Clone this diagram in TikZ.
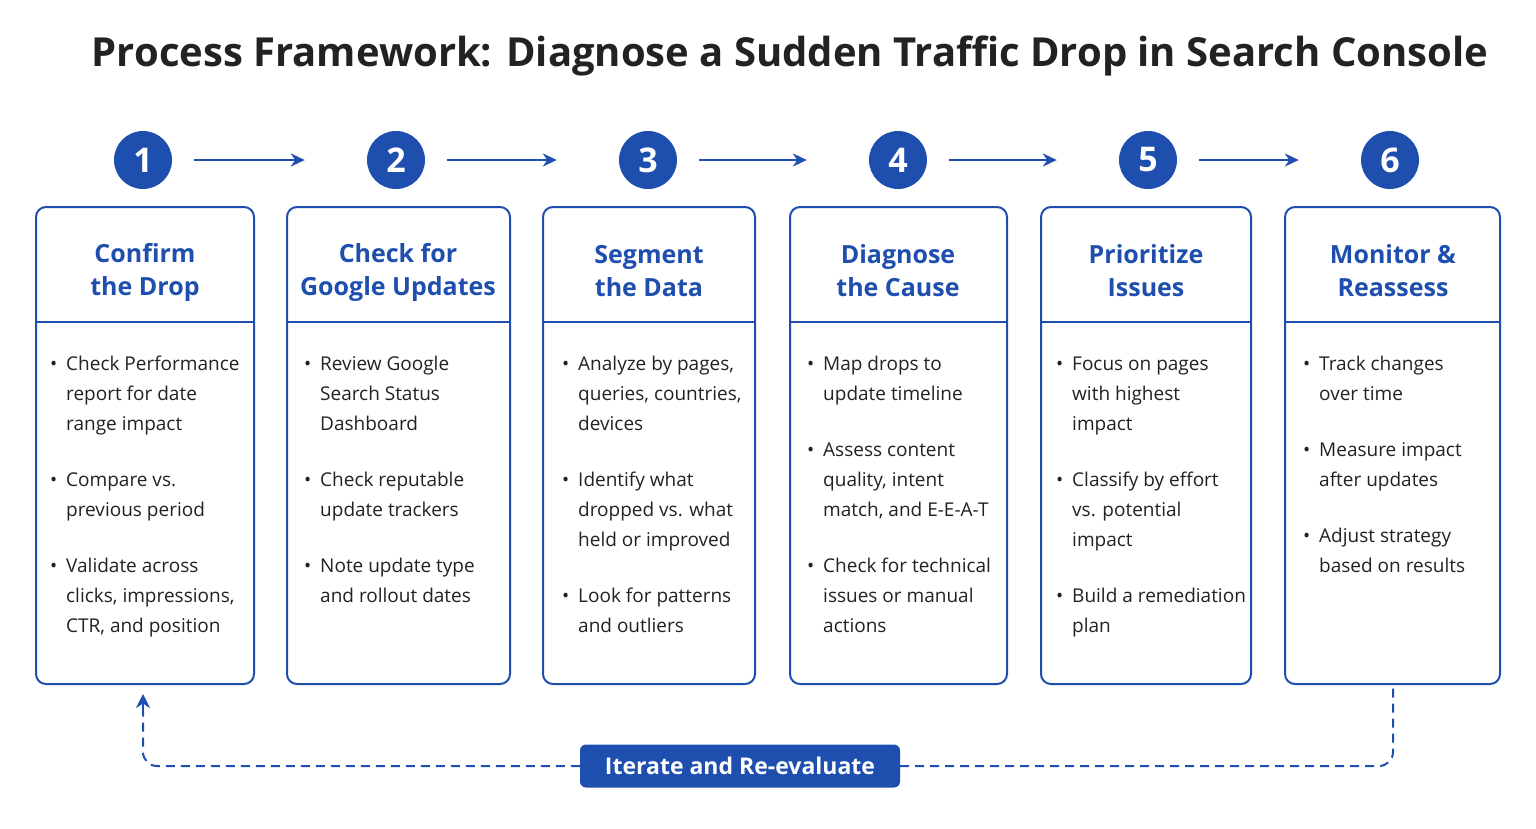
\documentclass[tikz,border=0pt]{standalone}
\usepackage{fontspec}
\setmainfont{Open Sans}
\usetikzlibrary{arrows.meta}
\definecolor{bl}{HTML}{1F4FAE}
\definecolor{ink}{HTML}{222222}
\newcommand{\bit}[1]{\makebox[16pt][l]{\textbullet}\begin{tabular}[t]{@{}l@{}}#1\end{tabular}\\[25pt]}
\tikzset{
 box/.style={draw=bl,line width=2pt,rounded corners=10pt},
 num/.style={circle,fill=bl,minimum size=58pt,text=white,font=\fontsize{34}{34}\selectfont\bfseries},
 head/.style={text=bl,font=\fontsize{25}{33}\selectfont\bfseries,align=center},
 body/.style={anchor=north west,text=ink,font=\fontsize{19}{30}\selectfont,align=left,inner sep=0pt},
 arr/.style={bl,line width=2.5pt,-{Stealth[length=14pt,width=13pt]}},
}
\begin{document}
\begin{tikzpicture}[x=1pt,y=-1pt]
\useasboundingbox[fill=white](0,0) rectangle (1536,828);
\node[text=ink,font=\fontsize{40}{40}\selectfont\bfseries] (title) at (790,56) {Process Framework: Diagnose a Sudden Traffic Drop in Search Console};
\foreach \i/\l/\r/\c in {1/36/254/143,2/287/510/396,3/543/755/648,4/790/1007/898,5/1041/1251/1148,6/1285/1500/1390}{
 \draw[box] (\l,207) rectangle (\r,684);
 \draw[bl,line width=2pt] (\l,322) -- (\r,322);
 \node[num] (n\i) at (\c,160) {\i};
}
\foreach \a/\b in {1/2,2/3,3/4,4/5,5/6}{\draw[arr] ([xshift=22pt]n\a.east) -- ([xshift=-62pt]n\b.west);}
\node[head] (h1) at (145,272) {Confirm\\the Drop};
\node[head] (h2) at (398,272) {Check for\\Google Updates};
\node[head] (h3) at (649,271) {Segment\\the Data};
\node[head] (h4) at (898,271) {Diagnose\\the Cause};
\node[head] (h5) at (1146,271) {Prioritize\\Issues};
\node[head] (h6) at (1393,271) {Monitor \&\\Reassess};
\node[body] (b1) at (50,349) {\bit{Check Performance\\report for date\\range impact}\bit{Compare vs.\\previous period}\bit{Validate across\\clicks, impressions,\\CTR, and position}};
\node[body] (b2) at (304,349) {\bit{Review Google\\Search Status\\Dashboard}\bit{Check reputable\\update trackers}\bit{Note update type\\and rollout dates}};
\node[body] (b3) at (562,349) {\bit{Analyze by pages,\\queries, countries,\\devices}\bit{Identify what\\dropped vs. what\\held or improved}\bit{Look for patterns\\and outliers}};
\node[body] (b4) at (807,349) {\bit{Map drops to\\update timeline}\bit{Assess content\\quality, intent\\match, and E-E-A-T}\bit{Check for technical\\issues or manual\\actions}};
\node[body] (b5) at (1056,349) {\bit{Focus on pages\\with highest\\impact}\bit{Classify by effort\\vs. potential\\impact}\bit{Build a remediation\\plan}};
\node[body] (b6) at (1303,349) {\bit{Track changes\\over time}\bit{Measure impact\\after updates}\bit{Adjust strategy\\based on results}};
\node[fill=bl,rounded corners=6pt,minimum width=320pt,minimum height=43pt,text=white,font=\fontsize{23}{23}\selectfont\bfseries] (it) at (740,766) {Iterate and Re-evaluate};
\coordinate (t1) at (143,694);
\coordinate (t6) at (1393,686);
\draw[bl,line width=2pt,dash pattern=on 9pt off 6pt,rounded corners=14pt] (it.west) -- (143,766) -- (143,712);
\draw[bl,line width=2pt,-{Stealth[length=14pt,width=14pt]}] (143,714) -- (t1);
\draw[bl,line width=2pt,dash pattern=on 9pt off 6pt,rounded corners=14pt] (it.east) -- (1393,766) -- (t6);
\end{tikzpicture}
\end{document}
